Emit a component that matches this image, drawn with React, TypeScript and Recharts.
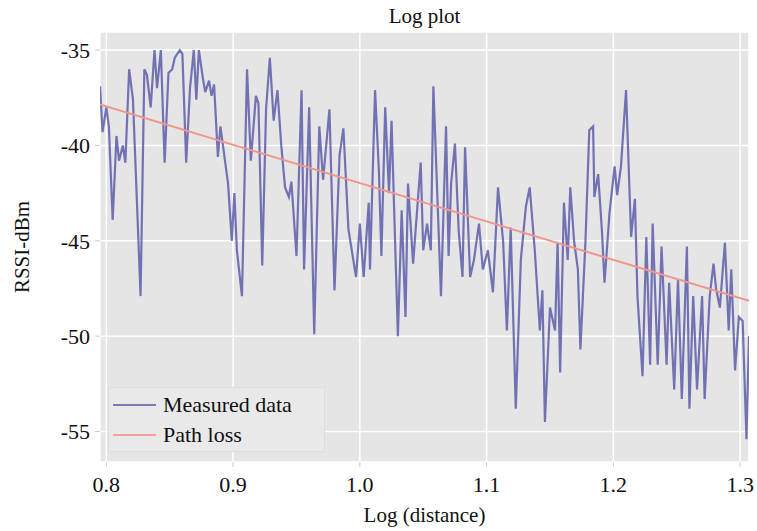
import { LineChart, Line, XAxis, YAxis, CartesianGrid, Legend, Label } from "recharts";

const FONT = '"Liberation Serif", "Times New Roman", serif';
const MEASURED_COLOR = "#5d5dab";
const PATH_LOSS_COLOR = "#f0968d";

// log10(distance) samples
const distance = [
  0.795, 0.797, 0.800, 0.802, 0.805, 0.808, 0.810, 0.813, 0.815, 0.818,
  0.821, 0.823, 0.827, 0.830, 0.832, 0.835, 0.838, 0.840, 0.843, 0.846,
  0.849, 0.852, 0.854, 0.858, 0.860, 0.863, 0.866, 0.869, 0.871, 0.873,
  0.876, 0.878, 0.881, 0.883, 0.885, 0.888, 0.890, 0.892, 0.896, 0.899,
  0.901, 0.903, 0.907, 0.911, 0.914, 0.918, 0.920, 0.923, 0.926, 0.929,
  0.932, 0.935, 0.938, 0.941, 0.944, 0.946, 0.950, 0.954, 0.956, 0.960,
  0.964, 0.968, 0.971, 0.976, 0.980, 0.984, 0.987, 0.991, 0.997, 1.000,
  1.003, 1.007, 1.008, 1.012, 1.015, 1.017, 1.020, 1.023, 1.025, 1.030,
  1.033, 1.036, 1.038, 1.042, 1.048, 1.050, 1.053, 1.056, 1.058, 1.064,
  1.068, 1.070, 1.072, 1.075, 1.078, 1.081, 1.083, 1.087, 1.090, 1.094,
  1.097, 1.101, 1.105, 1.109, 1.113, 1.116, 1.119, 1.123, 1.127, 1.131,
  1.134, 1.138, 1.142, 1.144, 1.146, 1.150, 1.154, 1.156, 1.158, 1.161,
  1.164, 1.166, 1.169, 1.172, 1.174, 1.178, 1.181, 1.184, 1.185, 1.188,
  1.191, 1.193, 1.197, 1.201, 1.203, 1.206, 1.210, 1.214, 1.217, 1.219,
  1.223, 1.226, 1.229, 1.231, 1.235, 1.238, 1.242, 1.244, 1.248, 1.251,
  1.254, 1.258, 1.260, 1.263, 1.266, 1.270, 1.272, 1.276, 1.279, 1.281,
  1.284, 1.288, 1.291, 1.293, 1.296, 1.299, 1.302, 1.305, 1.307,
];

// measured RSSI (dBm)
const rssi = [
  -36.9, -39.3, -38.0, -39.0, -43.9, -39.5, -40.8, -40.0, -40.9, -36.0,
  -37.6, -41.0, -47.9, -36.0, -36.3, -38.0, -35.0, -37.0, -35.0, -40.9,
  -36.2, -36.0, -35.4, -35.0, -35.2, -40.9, -37.0, -35.0, -37.6, -35.0,
  -36.4, -37.2, -36.6, -37.4, -36.8, -40.6, -39.0, -40.0, -42.0, -45.0,
  -42.5, -45.5, -47.9, -36.0, -40.8, -37.4, -37.8, -46.3, -38.1, -35.4,
  -38.7, -37.1, -40.0, -42.2, -42.7, -41.9, -45.8, -37.1, -46.5, -38.0,
  -49.9, -39.0, -41.8, -38.1, -47.6, -40.5, -39.1, -44.4, -46.9, -44.1,
  -46.9, -43.0, -46.5, -37.1, -41.3, -45.8, -38.0, -42.5, -38.7, -50.0,
  -43.4, -49.0, -42.0, -46.2, -40.9, -45.5, -44.1, -45.5, -36.9, -47.9,
  -39.0, -45.8, -42.0, -39.9, -44.5, -46.9, -40.1, -46.9, -46.0, -44.1,
  -46.5, -45.5, -47.7, -42.2, -45.0, -49.7, -44.3, -53.8, -46.0, -43.2,
  -42.2, -45.5, -49.7, -47.6, -54.5, -48.5, -49.7, -45.1, -51.9, -43.0,
  -46.0, -42.2, -45.0, -46.5, -50.7, -45.0, -39.2, -39.0, -42.7, -41.5,
  -44.5, -47.2, -43.5, -41.1, -42.6, -41.1, -37.1, -44.8, -42.8, -47.9,
  -52.1, -44.8, -51.5, -44.1, -51.5, -45.3, -51.5, -47.2, -52.8, -47.0,
  -53.3, -45.3, -53.8, -47.9, -52.8, -47.9, -53.3, -47.9, -46.2, -47.5,
  -48.5, -45.1, -49.7, -46.5, -51.8, -49.0, -49.2, -55.4, -50.0,
];

const pathLossDistance = [0.795, 1.307];
const pathLossRssi = [-37.85, -48.15];

const xTicks = [0.8, 0.9, 1.0, 1.1, 1.2, 1.3];
const yTicks = [-55, -50, -45, -40, -35];

const measured = distance.map((d, i) => ({ d, v: rssi[i] }));
const pathLoss = pathLossDistance.map((d, i) => ({ d, v: pathLossRssi[i] }));

const legendItems = [
  { name: "Measured data", color: "#7c7cb4" },
  { name: "Path loss", color: "#f2a29a" },
];

function LegendBox() {
  return (
    <div style={{ position: "relative", width: 217, height: 65, background: "#e9e9e9", border: "1px solid #dddddd", boxSizing: "border-box", fontFamily: FONT, fontSize: 22, color: "#111" }}>
      {legendItems.map((item, i) => (
        <div key={item.name} style={{ position: "absolute", left: 4, top: 3 + i * 30, height: 28, display: "flex", alignItems: "center" }}>
          <div style={{ width: 43, height: 2, background: item.color, marginRight: 7 }} />
          <span style={{ lineHeight: "28px", whiteSpace: "nowrap" }}>{item.name}</span>
        </div>
      ))}
    </div>
  );
}

export default function App() {
  const tickStyle = { fill: "#111", fontSize: 22, fontFamily: FONT };
  return (
    <div style={{ position: "absolute", left: 0, top: 0, width: 757, height: 531, background: "#fff" }}>
      <div style={{ position: "absolute", left: 100, width: 649, top: 5, textAlign: "center", fontFamily: FONT, fontSize: 21, lineHeight: "22px", color: "#111", zIndex: 2 }}>
        Log plot
      </div>
      <LineChart width={757} height={531} margin={{ top: 32, right: 8, left: 0, bottom: 0 }}>
        <CartesianGrid fill="#e5e5e5" stroke="#ffffff" strokeWidth={1.5} />
        <XAxis
          dataKey="d"
          type="number"
          domain={[0.795, 1.307]}
          allowDataOverflow
          ticks={xTicks}
          tickFormatter={(v: number) => v.toFixed(1)}
          height={69}
          axisLine={false}
          tickSize={5}
          tickMargin={9}
          tickLine={{ stroke: "#cccccc" }}
          tick={tickStyle}
          interval={0}
        >
          <Label value="Log (distance)" position="insideBottom" offset={9} style={{ fill: "#111", fontSize: 21, fontFamily: FONT }} />
        </XAxis>
        <YAxis
          type="number"
          domain={[-56.6, -34.05]}
          allowDataOverflow
          ticks={yTicks}
          width={100}
          axisLine={false}
          tickSize={5}
          tickMargin={5}
          tickLine={{ stroke: "#cccccc" }}
          tick={tickStyle}
          interval={0}
        >
          <Label
            content={() => (
              <text x={22} y={247} transform="rotate(-90 22 247)" textAnchor="middle" dy="0.355em" fill="#111" fontSize={21} fontFamily={FONT}>
                RSSI-dBm
              </text>
            )}
          />
        </YAxis>
        <Legend
          layout="horizontal"
          verticalAlign="middle"
          align="center"
          content={() => <LegendBox />}
          wrapperStyle={{ left: 108, top: 387, width: 217, height: 65 }}
        />
        <Line
          data={measured}
          dataKey="v"
          name="Measured data"
          type="linear"
          stroke={MEASURED_COLOR}
          strokeWidth={2.2}
          strokeOpacity={0.85}
          dot={false}
          activeDot={false}
          isAnimationActive={false}
        />
        <Line
          data={pathLoss}
          dataKey="v"
          name="Path loss"
          type="linear"
          stroke={PATH_LOSS_COLOR}
          strokeWidth={2}
          dot={false}
          activeDot={false}
          isAnimationActive={false}
        />
      </LineChart>
    </div>
  );
}
